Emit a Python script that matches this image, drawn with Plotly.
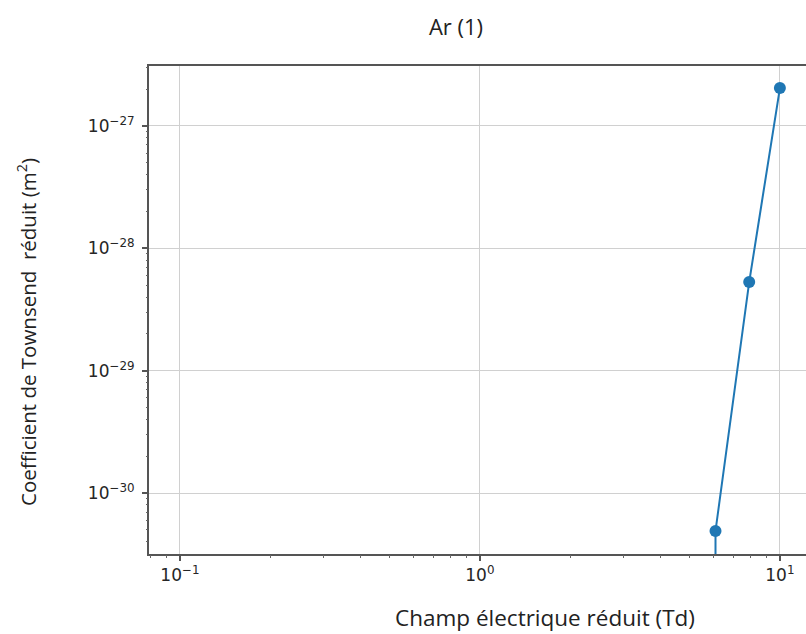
import plotly.graph_objects as go

# Data
field_td = [6.1, 6.1, 7.9, 10.0]
townsend = [1e-32, 4.9e-31, 5.3e-29, 2.04e-27]

x_tickvals = [0.1, 1, 10]
x_ticktext = ["10<sup>−1</sup>", "10<sup>0</sup>", "10<sup>1</sup>"]
y_tickvals = [1e-30, 1e-29, 1e-28, 1e-27]
y_ticktext = ["10<sup>−30</sup>", "10<sup>−29</sup>", "10<sup>−28</sup>", "10<sup>−27</sup>"]

x_minor = [m * 10.0 ** e for e in (-2, -1, 0, 1) for m in range(2, 10)]
y_minor = [m * 10.0 ** e for e in (-31, -30, -29, -28, -27) for m in range(2, 10)]

X_RANGE = [-1.103, 1.087]
Y_RANGE = [-30.498, -26.51]

W, H = 806, 634
L, R, T, B = 149, 0, 66, 80
PW, PH = W - L - R, H - T - B

fig = go.Figure()
fig.add_trace(go.Scatter(
    x=field_td, y=townsend, mode="lines+markers",
    line=dict(color="#1f77b4", width=2),
    marker=dict(color="#1f77b4", size=12),
    showlegend=False,
))
# invisible trace on the overlay axes carrying minor ticks
fig.add_trace(go.Scatter(x=[1], y=[1e-28], xaxis="x2", yaxis="y2", mode="markers",
                         marker=dict(opacity=0), showlegend=False, hoverinfo="skip"))

tickfont = dict(family="DejaVu Sans", size=17, color="#262626")
fig.update_layout(
    width=W, height=H,
    margin=dict(l=L, r=R, t=T, b=B),
    paper_bgcolor="white", plot_bgcolor="white",
    title=dict(text="Ar (1)", x=456 / W, xanchor="center", y=1 - 27 / H, yanchor="middle",
               font=dict(family="Open Sans", size=22, color="#222222")),
    xaxis=dict(
        type="log", range=X_RANGE,
        tickvals=x_tickvals, ticktext=x_ticktext, tickfont=tickfont,
        showgrid=True, gridcolor="#d0d0d0", gridwidth=1.3,
        showline=True, linecolor="#555555", linewidth=2, mirror=True,
        ticks="outside", ticklen=5, tickcolor="#555555", tickwidth=1.5,
        zeroline=False,
    ),
    yaxis=dict(
        type="log", range=Y_RANGE,
        tickvals=y_tickvals, ticktext=y_ticktext, tickfont=tickfont,
        showgrid=True, gridcolor="#d0d0d0", gridwidth=1.3,
        showline=True, linecolor="#555555", linewidth=2, mirror=False,
        ticks="outside", ticklen=5, tickcolor="#555555", tickwidth=1.5,
        ticklabelstandoff=4,
        zeroline=False,
    ),
    xaxis2=dict(
        type="log", range=X_RANGE, overlaying="x", anchor="y2", side="bottom",
        tickvals=x_minor, showticklabels=False, showgrid=False, zeroline=False,
        ticks="outside", ticklen=2.5, tickcolor="#666666", tickwidth=1.2, showline=False,
    ),
    yaxis2=dict(
        type="log", range=Y_RANGE, overlaying="y", anchor="x2", side="left",
        tickvals=y_minor, showticklabels=False, showgrid=False, zeroline=False,
        ticks="outside", ticklen=2.5, tickcolor="#666666", tickwidth=1.2, showline=False,
    ),
    annotations=[
        dict(text="Champ électrique réduit (Td)", xref="paper", yref="paper",
             x=(545 - L) / PW, y=(T + PH - 617) / PH, xanchor="center", yanchor="middle",
             showarrow=False, font=dict(family="Open Sans", size=22.5, color="#222222")),
        dict(text="Coefficient de Townsend  réduit (m<sup>2</sup>)", xref="paper", yref="paper",
             x=(27 - L) / PW, y=(T + PH - 332) / PH, xanchor="center", yanchor="middle",
             textangle=-90, showarrow=False,
             font=dict(family="Open Sans", size=20.5, color="#222222")),
    ],
)

fig.write_html("out.html")
